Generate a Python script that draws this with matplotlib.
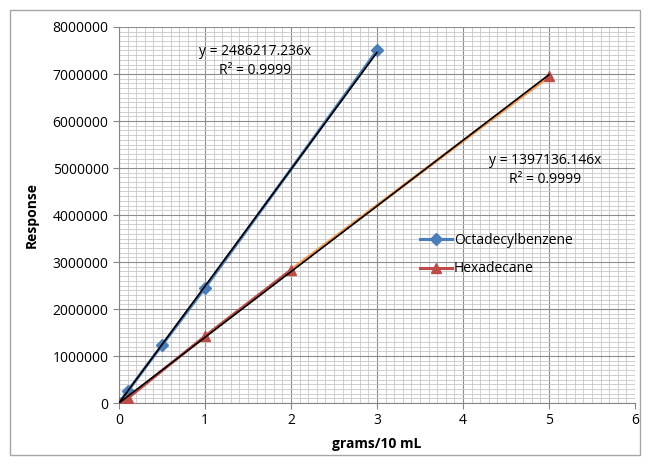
import numpy as np
import matplotlib
matplotlib.use("Agg")
import matplotlib.pyplot as plt
from matplotlib.ticker import MultipleLocator
from matplotlib.patches import Rectangle

plt.rcParams["font.family"] = ["Open Sans", "DejaVu Sans"]

# data
octa_x = [0, 0.1, 0.5, 1, 3]
octa_y = [0, 250000, 1230000, 2450000, 7500000]
hexa_x = [0, 0.1, 1, 2, 5]
hexa_y = [0, 100000, 1420000, 2830000, 6950000]
octa_slope = 2486217.236
hexa_slope = 1397136.146

fig = plt.figure(figsize=(6.49, 4.65), dpi=100)
fig.patches.append(Rectangle((10 / 649, 10 / 465), 630 / 649, 445 / 465,
                             transform=fig.transFigure, fill=False,
                             edgecolor="#a6a6a6", linewidth=1))
ax = fig.add_axes([119 / 649, 1 - 403 / 465, 516 / 649, 376 / 465])

ax.set_xlim(0, 6)
ax.set_ylim(0, 8000000)
ax.xaxis.set_major_locator(MultipleLocator(1))
ax.xaxis.set_minor_locator(MultipleLocator(0.1))
ax.yaxis.set_major_locator(MultipleLocator(1000000))
ax.yaxis.set_minor_locator(MultipleLocator(100000))
ax.grid(which="major", color="#8c8c8c", linewidth=0.8)
ax.grid(which="minor", color="#c8c8c8", linewidth=0.6)
ax.set_axisbelow(True)
for s in ["top", "right"]:
    ax.spines[s].set_visible(False)
for s in ["left", "bottom"]:
    ax.spines[s].set_color("#868686")
ax.tick_params(which="major", length=4, color="#868686", labelsize=10,
               direction="out")
ax.tick_params(which="minor", length=0)
ax.ticklabel_format(style="plain", axis="y")

# data series
ax.plot(octa_x, octa_y, color="#4a7ebb", linewidth=2.2, marker="D",
        markersize=6, label="Octadecylbenzene", zorder=3)
ax.plot(hexa_x[:4], hexa_y[:4], color="#be4b48", linewidth=2.2, zorder=3)
ax.plot(hexa_x[3:], hexa_y[3:], color="#f79646", linewidth=2.2, zorder=3)
ax.plot(hexa_x, hexa_y, color="#be4b48", linestyle="none", marker="^",
        markersize=7, zorder=4)
ax.plot([], [], color="#be4b48", linewidth=2.2, marker="^", markersize=7,
        label="Hexadecane")

# trendlines
tx1 = np.array([0, max(octa_x)])
tx2 = np.array([0, max(hexa_x)])
ax.plot(tx1, octa_slope * tx1, color="black", linewidth=1.2, zorder=5)
ax.plot(tx2, hexa_slope * tx2, color="black", linewidth=1.2, zorder=5)

ax.text(1.58, 7270000, "y = 2486217.236x\nR² = 0.9999", ha="center",
        va="center", fontsize=10, linespacing=1.35)
ax.text(4.95, 4950000, "y = 1397136.146x\nR² = 0.9999", ha="center",
        va="center", fontsize=10, linespacing=1.35)

ax.legend(loc="center left", bbox_to_anchor=(0.56, 0.395), frameon=False,
          fontsize=10, handlelength=2.3, handletextpad=0.1, labelspacing=1.0)

ax.set_xlabel("grams/10 mL", fontsize=10, fontweight="bold", labelpad=6)
ax.set_ylabel("Response", fontsize=10, fontweight="bold", labelpad=10)

fig.savefig("out.png", dpi=100)
